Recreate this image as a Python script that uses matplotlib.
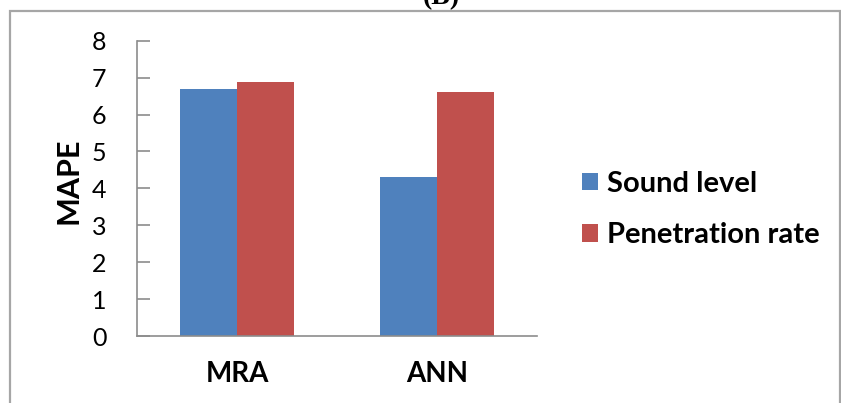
import matplotlib
matplotlib.use("Agg")
import matplotlib.pyplot as plt
from matplotlib.patches import Rectangle
import numpy as np

# Data
methods = ["MRA", "ANN"]
sound_level = [6.68, 4.32]
penetration_rate = [6.88, 6.61]
series_names = ["Sound level", "Penetration rate"]
y_ticks = [0, 1, 2, 3, 4, 5, 6, 7, 8]

blue = "#4F81BD"
red = "#C0504D"
axis_gray = "#8C8C8C"

plt.rcParams["font.family"] = ["Lato", "DejaVu Sans"]

fig = plt.figure(figsize=(8.41, 4.03), dpi=100)
W, H = 841, 403

def fx(px):
    return px / W

def fy(py):
    return 1 - py / H

ax = fig.add_axes([fx(137), fy(336), fx(537) - fx(137), fy(40.7) - fy(336)])

x = np.arange(len(methods))
width = 0.285
b1 = ax.bar(x - width / 2, sound_level, width, color=blue, label=series_names[0])
b2 = ax.bar(x + width / 2, penetration_rate, width, color=red, label=series_names[1])

ax.set_xlim(-0.5, len(methods) - 0.5)
ax.set_ylim(0, 8)
ax.set_yticks(y_ticks)
ax.set_yticklabels([str(t) for t in y_ticks], fontsize=18)
ax.set_xticks(x)
ax.set_xticklabels(methods, fontsize=20, fontweight="bold")

for side in ["top", "right"]:
    ax.spines[side].set_visible(False)
for side in ["left", "bottom"]:
    ax.spines[side].set_color(axis_gray)
    ax.spines[side].set_linewidth(1.2)

ax.tick_params(axis="y", direction="in", length=9, width=1.2, color=axis_gray, pad=22)
ax.tick_params(axis="x", length=0, pad=18)

ax.set_ylabel("MAPE", fontsize=22, fontweight="bold")
ax.yaxis.label.set_verticalalignment("center")
ax.yaxis.set_label_coords(-0.1725, 0.527)

leg = fig.legend(
    handles=[b1, b2],
    labels=series_names,
    loc="center left",
    bbox_to_anchor=(fx(582), fy(209.5)),
    frameon=False,
    prop={"weight": "bold", "size": 21},
    borderpad=0,
    borderaxespad=0,
    handlelength=0.55,
    handleheight=0.55,
    handletextpad=0.3,
    labelspacing=0.88,
)

# Outer frame around the chart
fig.patches.append(
    Rectangle((fx(9.5), -0.02), fx(839.5) - fx(9.5), fy(10.5) + 0.02,
              transform=fig.transFigure, fill=False, edgecolor="#A6A6A6",
              linewidth=1.6)
)

# Panel label
fig.text(fx(441), fy(4), "(B)", ha="center", va="baseline", fontsize=20,
         fontweight="bold", family="Liberation Serif")

fig.savefig("out.png", dpi=100)
